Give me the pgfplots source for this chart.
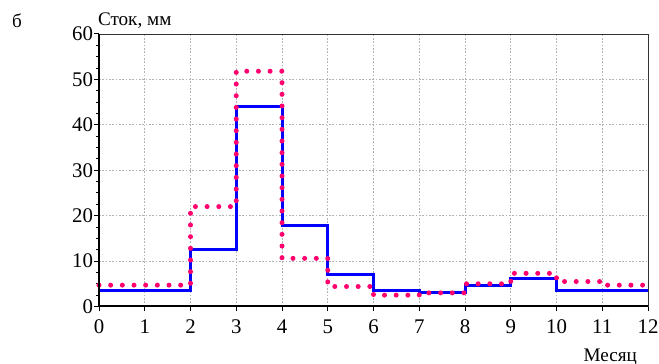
\documentclass[border=0pt]{standalone}
\usepackage{pgfplots}
\pgfplotsset{compat=1.18}
\usepackage{fontspec}
\setmainfont{Liberation Serif}

\definecolor{obsblue}{RGB}{0,0,255}
\definecolor{simpink}{RGB}{255,0,110}

\begin{document}
\fontsize{11.5}{13}\selectfont
\begin{tikzpicture}
\begin{axis}[
  scale only axis,
  width=329.4pt, height=163.5pt,
  xmin=0, xmax=12, ymin=0, ymax=60,
  xtick={0,1,...,12},
  ytick={0,10,...,60},
  minor y tick num=3,
  tick align=outside,
  tick pos=left,
  major tick length=3pt,
  minor tick length=1.6pt,
  tick style={black, line width=0.6pt},
  axis line style={gray!40!black, line width=0.5pt},
  grid=major,
  major grid style={gray!60, line width=0.4pt, dash pattern=on 1pt off 1pt},
  /pgf/number format/assume math mode=true,
  tick label style={font=\fontsize{12.5}{14}\selectfont},
  yticklabel style={inner xsep=0pt, xshift=-0.4pt},
  xticklabel style={yshift=-1pt},
  clip=false,
]
% runoff, observed
\addplot[const plot, obsblue, line width=1.8pt] coordinates {
  (0,3.6) (2,12.6) (3,44.0) (4,17.8) (5,7.1) (6,3.6)
  (7,3.0) (8,4.7) (9,6.2) (10,3.6) (12,3.6)
};
% runoff, simulated
\addplot[const plot, simpink, line width=3pt, line cap=round,
  dash pattern=on 0pt off 7pt] coordinates {
  (0,4.7) (2,22.0) (3,51.8) (4,10.6) (5,4.4) (6,2.5)
  (7,3.0) (8,5.0) (9,7.3) (10,5.5) (11,4.7) (12,4.7)
};
% heavy left and bottom axis lines
\draw[black, line width=1.2pt] (rel axis cs:0,1) -- (rel axis cs:0,0) -- (rel axis cs:1,0);
\end{axis}
\node[anchor=center] at (-49.2pt,171.6pt) {б};
\node[anchor=base west, inner sep=0pt] at (-0.8pt,168.3pt) {Сток, мм};
\node[anchor=base east, inner sep=0pt] at (323pt,-33pt) {Месяц};
\pgfresetboundingbox
\useasboundingbox (-59.4pt,-34.5pt) rectangle (336pt,183.9pt);
\end{tikzpicture}
\end{document}
